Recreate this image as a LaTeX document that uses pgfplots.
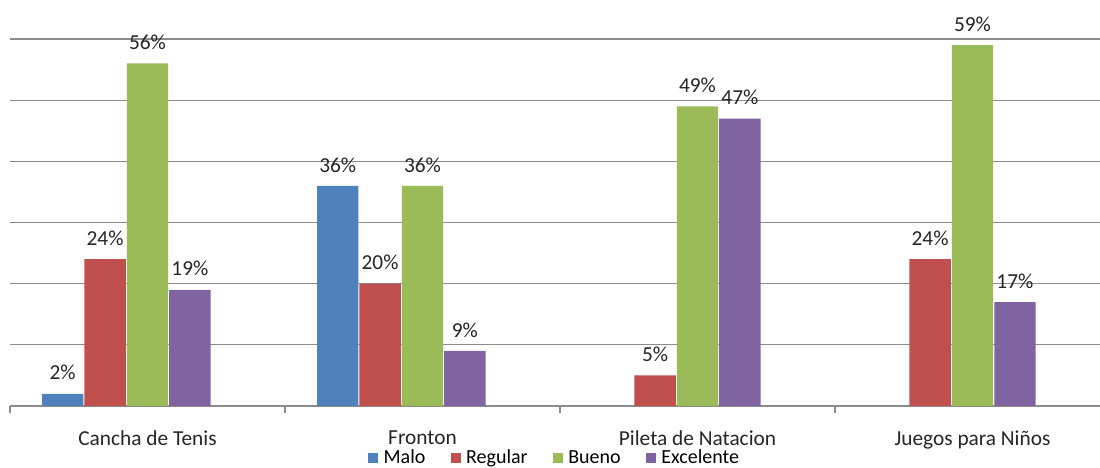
\documentclass[border=0pt]{standalone}
\usepackage{pgfplots}
\pgfplotsset{compat=1.18}
\usepackage{fontspec}
\setmainfont{Carlito}
\usetikzlibrary{calc}
\definecolor{cMalo}{HTML}{4F81BD}
\definecolor{cReg}{HTML}{C0504D}
\definecolor{cBue}{HTML}{9BBB59}
\definecolor{cExc}{HTML}{8064A2}
\definecolor{cGrid}{HTML}{8C8C8C}
\definecolor{cTxt}{HTML}{262626}
\begin{document}
\begin{tikzpicture}
\begin{axis}[
  scale only axis, width=817.5pt, height=275.25pt,
  xmin=-0.5, xmax=3.4636, ymin=0, ymax=60,
  ybar=0pt, bar width=31pt,
  /pgf/number format/assume math mode=true,
  axis x line*=bottom, axis y line*=left,
  y axis line style={draw=none},
  x axis line style={cGrid, line width=0.9pt},
  ytick={0,10,...,60}, yticklabels={}, ytick style={draw=none},
  ymajorgrids, major grid style={cGrid, line width=0.9pt},
  xtick={0,1,2,3},
  xticklabels={Cancha de Tenis,Fronton,Pileta de Natacion,Juegos para Niños},
  major x tick style={draw=none},
  minor xtick={-0.5,0.5,1.5,2.5},
  minor x tick style={cGrid, line width=0.9pt},
  tick align=outside, minor tick length=5pt,
  xticklabel style={font=\fontsize{16}{18}\selectfont, text=cTxt, inner sep=0pt, yshift=-14pt},
  nodes near coords={\pgfmathprintnumber{\pgfplotspointmeta}\%},
  every node near coord/.append style={font=\fontsize{16}{18}\selectfont, text=cTxt, inner sep=0pt, yshift=10pt, anchor=south},
  legend style={at={(axis description cs:0.5,0)}, anchor=center, yshift=-39pt,
    legend columns=4, draw=none, fill=none, font=\fontsize{15}{15}\selectfont,
    inner sep=0pt,
    /tikz/column 1/.style={column sep=2pt},
    /tikz/column 2/.style={column sep=17pt},
    /tikz/column 3/.style={column sep=2pt},
    /tikz/column 4/.style={column sep=17pt},
    /tikz/column 5/.style={column sep=2pt},
    /tikz/column 6/.style={column sep=17pt},
    /tikz/column 7/.style={column sep=2pt}},
  legend image code/.code={\draw[#1,draw=none] (0pt,-3.75pt) rectangle (7.5pt,3.75pt);},
]
\addplot[fill=cMalo, draw=none, bar shift=-63.6pt] coordinates {(0,2) (1,36)};
\addplot[fill=cReg, draw=none, bar shift=-31.8pt] coordinates {(0,24) (1,20) (2,5) (3,24)};
\addplot[fill=cBue, draw=none, bar shift=0pt] coordinates {(0,56) (1,36) (2,49) (3,59)};
\addplot[fill=cExc, draw=none, bar shift=31.8pt] coordinates {(0,19) (1,9) (2,47) (3,17)};
\legend{Malo,Regular,Bueno,Excelente}
\coordinate (bl) at (rel axis cs:0,0);
\coordinate (tr) at (rel axis cs:1,1);
\end{axis}
\pgfresetboundingbox
\path[use as bounding box] ($(bl)+(-7.5pt,-46.5pt)$) rectangle ($(tr)+(0pt,29.25pt)$);
\end{tikzpicture}
\end{document}
